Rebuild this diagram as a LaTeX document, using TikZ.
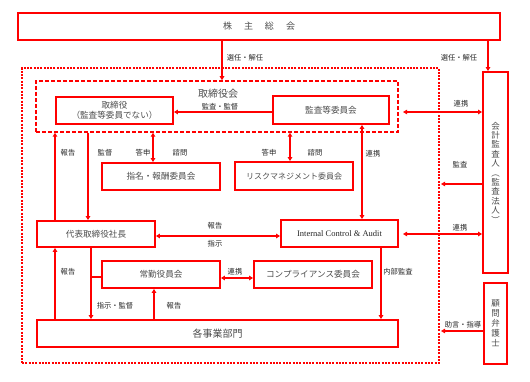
\documentclass[tikz,border=0pt]{standalone}
\usepackage{fontspec}
\newfontfamily\jp{Noto Sans CJK JP}
\newfontfamily\lserif{Liberation Serif}
\usetikzlibrary{arrows.meta}
\tikzset{
  box/.style={draw=red, line width=1.8pt, inner sep=0pt, font=\jp\fontsize{8.6}{10}\selectfont, text=black!70, align=center},
  lab/.style={font=\jp\fontsize{7.3}{8}\selectfont, text=black!85, inner sep=0pt},
  arr/.style={red, line width=1.2pt, -{Triangle[length=4pt,width=4.5pt]}},
  darr/.style={red, line width=1.2pt, {Triangle[length=4pt,width=4.5pt]}-{Triangle[length=4pt,width=4.5pt]}},
  ln/.style={red, line width=1.2pt}
}
\begin{document}
\begin{tikzpicture}[x=1pt,y=-1pt]
\useasboundingbox (0,0) rectangle (530,382);
% frames
\node[draw=red, line width=2pt, dash pattern=on 2pt off 1.3pt, minimum width=417pt, minimum height=295pt, inner sep=0pt] (outer) at (230.5,215.5) {};
\node[draw=red, line width=1.5pt, dash pattern=on 4pt off 2pt, minimum width=362pt, minimum height=51pt, inner sep=0pt] (board) at (217,106.5) {};
\node[font=\jp\fontsize{10}{11}\selectfont, text=black!70, inner sep=0pt] (boardtitle) at (218,94) {取締役会};
% boxes
\node[box, line width=2pt, minimum width=482pt, minimum height=27pt, font=\jp\fontsize{9}{10}\selectfont] (kabu) at (259,26.5) {株\hspace{12pt}主\hspace{12pt}総\hspace{12pt}会};
\node[box, minimum width=117pt, minimum height=27pt] (tori) at (114.5,110.5) {取締役\\（監査等委員でない）};
\node[box, minimum width=116pt, minimum height=28pt] (kansa) at (331,110) {監査等委員会};
\node[box, minimum width=118pt, minimum height=27pt] (shimei) at (161,176.5) {指名・報酬委員会};
\node[box, minimum width=118pt, minimum height=28pt, font=\jp\fontsize{8}{10}\selectfont] (risk) at (294,176) {リスクマネジメント委員会};
\node[box, minimum width=118pt, minimum height=26pt] (daihyo) at (96,234) {代表取締役社長};
\node[box, minimum width=117pt, minimum height=27pt, font=\lserif\fontsize{8.5}{10}\selectfont, text=black!85] (ic) at (339.5,233.5) {Internal Control \& Audit};
\node[box, minimum width=118pt, minimum height=27pt] (jokin) at (161,274.5) {常勤役員会};
\node[box, minimum width=118pt, minimum height=27pt] (comp) at (313,274.5) {コンプライアンス委員会};
\node[box, minimum width=361pt, minimum height=27pt, font=\jp\fontsize{10}{11}\selectfont] (kakuji) at (217.5,333.5) {各事業部門};
\node[box, minimum width=25pt, minimum height=201pt, font=\jp\fontsize{8.5}{9.4}\selectfont] (kaikei) at (495.5,172.5) {会\\計\\監\\査\\人\\︵\\監\\査\\法\\人\\︶};
\node[box, minimum width=23pt, minimum height=81pt, font=\jp\fontsize{8.5}{10}\selectfont] (komon) at (495.5,323.5) {顧\\問\\弁\\護\\士};
% helper coordinates
\coordinate (x55) at (55,0);
\coordinate (x88) at (88,0);
\coordinate (x91) at (91,0);
\coordinate (x153) at (153,0);
\coordinate (x154) at (154,0);
\coordinate (x222) at (222,0);
\coordinate (x290) at (290,0);
\coordinate (x362) at (362,0);
\coordinate (x381) at (381,0);
\coordinate (x488) at (488,0);
\coordinate (y112) at (0,112);
\coordinate (y184) at (0,184);
\coordinate (y234) at (0,234);
\coordinate (y236) at (0,236);
\coordinate (y277) at (0,277);
\coordinate (y278) at (0,278);
\coordinate (y331) at (0,331);
\coordinate (bx) at (403,0);
\coordinate (ox) at (441,0);
% connectors
\draw[arr] (kabu.south -| x222) -- (board.north -| x222);
\draw[arr] (kabu.south -| x488) -- (kaikei.north -| x488);
\draw[arr] (kansa.west |- y112) -- (tori.east |- y112);
\draw[darr] (bx |- y112) -- (kaikei.west |- y112);
\draw[arr] (daihyo.north -| x55) -- (board.south -| x55);
\draw[arr] (board.south -| x88) -- (daihyo.north -| x88);
\draw[darr] (board.south -| x153) -- (shimei.north -| x153);
\draw[darr] (board.south -| x290) -- (risk.north -| x290);
\draw[darr] (kansa.south -| x362) -- (ic.north -| x362);
\draw[arr] (kaikei.west |- y184) -- (ox |- y184);
\draw[arr] (komon.west |- y331) -- (ox |- y331);
\draw[darr] (bx |- y234) -- (kaikei.west |- y234);
\draw[darr] (ic.west |- y236) -- (daihyo.east |- y236);
\draw[arr] (daihyo.south -| x91) -- (kakuji.north -| x91);
\draw[ln] (x91 |- y277) -- (jokin.west |- y277);
\draw[arr] (kakuji.north -| x55) -- (daihyo.south -| x55);
\draw[arr] (kakuji.north -| x154) -- (jokin.south -| x154);
\draw[darr] (jokin.east |- y278) -- (comp.west |- y278);
\draw[arr] (ic.south -| x381) -- (kakuji.north -| x381);
% labels
\node[lab] (l1) at (245,58) {選任・解任};
\node[lab] (l2) at (459,58) {選任・解任};
\node[lab] (l3) at (220,107) {監査・監督};
\node[lab] (l4) at (461,104) {連携};
\node[lab] (l5) at (68,153) {報告};
\node[lab] (l6) at (105,153) {監督};
\node[lab] (l7) at (143,153) {答申};
\node[lab] (l8) at (180,153) {諮問};
\node[lab] (l9) at (269,153) {答申};
\node[lab] (l10) at (315,153) {諮問};
\node[lab] (l11) at (373,154) {連携};
\node[lab] (l12) at (460,165) {監査};
\node[lab] (l13) at (215,226) {報告};
\node[lab] (l14) at (215,244) {指示};
\node[lab] (l15) at (460,228) {連携};
\node[lab] (l16) at (68,272) {報告};
\node[lab] (l17) at (235,272) {連携};
\node[lab] (l18) at (398,272) {内部監査};
\node[lab] (l19) at (115,306) {指示・監督};
\node[lab] (l20) at (174,306) {報告};
\node[lab] (l21) at (463,325) {助言・指導};
\end{tikzpicture}
\end{document}
